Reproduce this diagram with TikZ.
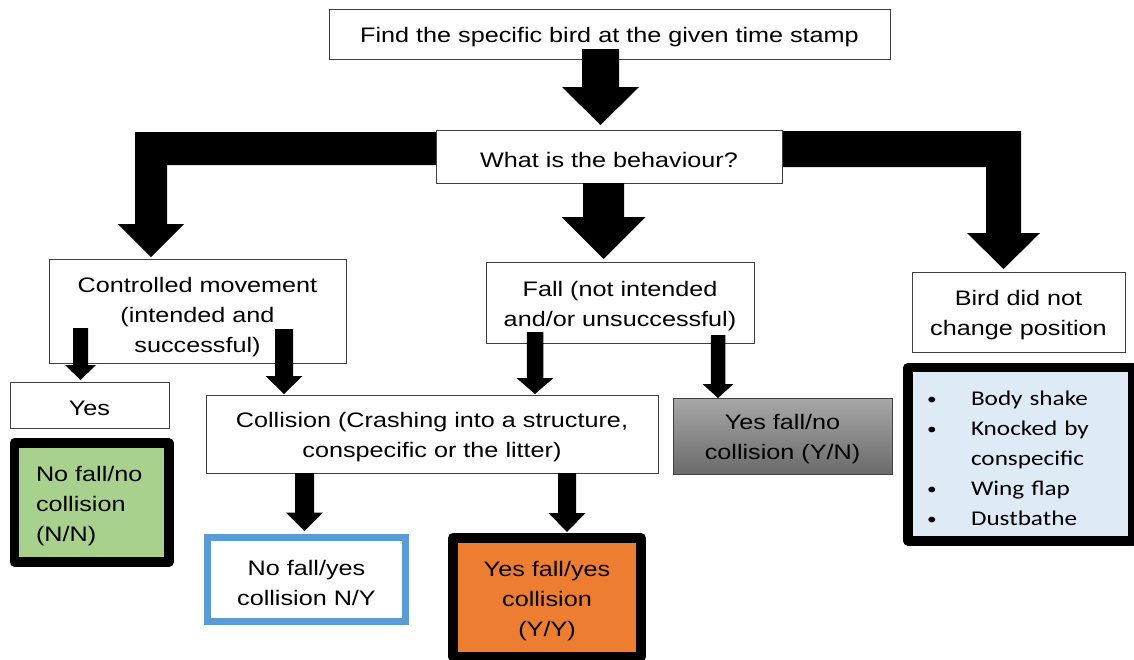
\documentclass[tikz,border=0pt]{standalone}
\usepackage{fontspec}
\setmainfont{Liberation Sans}[FakeStretch=1.2]
\newfontfamily\calfont{Carlito}[FakeStretch=1.2]
\usetikzlibrary{calc}
\definecolor{boxgreen}{HTML}{A9D18E}
\definecolor{boxorange}{HTML}{ED7D31}
\definecolor{boxblue}{HTML}{5B9BD5}
\definecolor{boxlightblue}{HTML}{DEEBF7}
\definecolor{graytop}{HTML}{A8A8A8}
\definecolor{graybot}{HTML}{6A6A6A}
\definecolor{edgegray}{HTML}{404040}
% block arrow: x-centre, shaft top, head start, tip, shaft width, head width
\newcommand\blockarr[6]{%
  \fill[black] (#1-#5/2,#2) -- (#1+#5/2,#2) -- (#1+#5/2,#3) -- (#1+#6/2,#3)
    -- (#1,#4) -- (#1-#6/2,#3) -- (#1-#5/2,#3) -- cycle;}
\newcommand\lowr{\rule{0pt}{22pt}}
\newcommand\bul{\makebox[44pt][l]{\raisebox{1pt}{\fontsize{16}{30}\selectfont •}}}
\tikzset{
  txt/.style={font=\fontsize{21}{30}\selectfont},
  plainbox/.style={txt, draw=edgegray, line width=1pt, fill=white, inner sep=0pt, align=center},
  heavybox/.style={txt, draw=black, line join=round, inner sep=0pt},
}
\begin{document}
\begin{tikzpicture}[x=1pt,y=-1pt]
\useasboundingbox (0,0) rectangle (1134,659);
\clip (0,0) rectangle (1134,659);

% elbow arrows (behind the boxes)
\fill[black] (440,132) -- (135,132) -- (135,224) -- (118,224) -- (151,257)
  -- (184,224) -- (167,224) -- (167,165) -- (440,165) -- cycle;
\fill[black] (778,131) -- (1021,131) -- (1021,233) -- (1040,233) -- (1003.5,269)
  -- (967,233) -- (986,233) -- (986,167) -- (778,167) -- cycle;

% plain boxes
\node[plainbox, minimum width=561pt, minimum height=50pt] (top) at (609.5,34)
  {\lowr Find the specific bird at the given time stamp};
\node[plainbox, minimum width=346pt, minimum height=53pt] (behav) at (609,156.5)
  {\lowr What is the behaviour?};
\node[plainbox, minimum width=297pt, minimum height=104pt] (ctrl) at (197.5,311)
  {\rule{0pt}{27pt}Controlled movement\\(intended and\\successful)};
\node[plainbox, minimum width=268pt, minimum height=81pt] (fall) at (620,302.5)
  {\lowr Fall (not intended\\and/or unsuccessful)};
\node[plainbox, minimum width=213pt, minimum height=80pt] (bird) at (1018.5,312)
  {\lowr Bird did not\\change position};
\node[plainbox, minimum width=159pt, minimum height=46pt] (yes) at (89.5,405)
  {\lowr Yes};
\node[plainbox, minimum width=452pt, minimum height=78pt] (coll) at (432,434)
  {\lowr Collision (Crashing into a structure,\\conspecific or the litter)};
\node[plainbox, minimum width=219pt, minimum height=76pt, top color=graytop,
  bottom color=graybot] (yn) at (782.5,436)
  {\lowr Yes fall/no\\collision (Y/N)};

% outcome boxes
\node[txt, draw=boxblue, line width=7pt, fill=white, inner sep=0pt, align=center,
  minimum width=198pt, minimum height=83.5pt] (ny) at (306.5,579.25)
  {\lowr No fall/yes\\collision N/Y};
\node[heavybox, line width=10pt, fill=boxorange, align=center,
  minimum width=188pt, minimum height=118.5pt] (yy) at (547,597.25)
  {\lowr Yes fall/yes\\collision\\(Y/Y)};
\node[heavybox, line width=9.5pt, fill=boxgreen, align=left,
  text width=111.5pt, inner xsep=21.5pt, minimum height=119pt] (nn) at (91.75,502.5)
  {\lowr No fall/no\\collision\\(N/N)};
\node[heavybox, line width=9.5pt, fill=boxlightblue, align=left,
  font=\calfont\fontsize{21}{30}\selectfont,
  text width=187pt, inner xsep=19pt, minimum height=173.5pt] (list) at (1020.5,454.25)
  {\lowr\bul Body shake\\
   \bul Knocked by\\
   \hspace*{44pt}conspecific\\
   \bul Wing flap\\
   \bul Dustbathe};

% straight block arrows
\blockarr{600.5}{49}{87}{125}{37}{77}
\blockarr{603.5}{183}{217}{259}{41}{84}
\blockarr{80.5}{328}{365}{380}{15}{31}
\blockarr{284}{329}{376}{394}{18}{37}
\blockarr{535}{332}{378}{394}{16.5}{37}
\blockarr{718}{335}{384}{398}{14.5}{31}
\blockarr{304.5}{473}{512.5}{531}{19}{37}
\blockarr{567}{473}{513}{532}{18}{37}
\end{tikzpicture}
\end{document}
